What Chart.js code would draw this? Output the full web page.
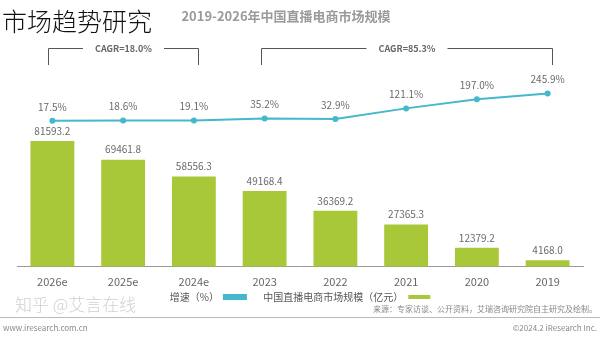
<!DOCTYPE html>
<html>
<head>
<meta charset="utf-8">
<script src="https://cdn.jsdelivr.net/npm/chart.js@4/dist/chart.umd.min.js"></script>
<style>
  html, body { margin: 0; padding: 0; background: #fff; }
  #wrap { position: relative; width: 600px; height: 338px; }
  #overlay {
    position: absolute; left: 2px; top: 2px;
    font-family: "Noto Sans CJK SC", sans-serif; font-size: 25px; font-weight: 300;
    color: #111;
  }
</style>
</head>
<body>
<div id="wrap">
  <canvas id="marketChart" width="600" height="338"></canvas>
  <div id="overlay">市场趋势研究</div>
</div>
<script>
// Data (order as shown in the picture)
const years = ['2026e', '2025e', '2024e', '2023', '2022', '2021', '2020', '2019'];
const marketSize = [81593.2, 69461.8, 58556.3, 49168.4, 36369.2, 27365.3, 12379.2, 4168.0];
const growthRate = [17.5, 18.6, 19.1, 35.2, 32.9, 121.1, 197.0, 245.9];
const cagrLabels = ['CAGR=18.0%', 'CAGR=85.3%'];

const FONT = '"Noto Sans CJK SC", "Noto Sans", sans-serif';
const BAR_COLOR = '#A8C83A';
const LINE_COLOR = '#45B8CB';

/**
 * Value labels above bars and points
 */
const valueLabels = {
    id: 'valueLabels',
    afterDatasetsDraw(chart) {
        const ctx = chart.ctx;
        ctx.save();
        ctx.textAlign = 'center';
        ctx.textBaseline = 'bottom';
        ctx.fillStyle = '#6a6a6a';
        ctx.font = '10px ' + FONT;

        chart.getDatasetMeta(0).data.forEach((bar, i) => {
            ctx.fillText(marketSize[i].toFixed(1), bar.x, bar.y - 5);
        });
        chart.getDatasetMeta(1).data.forEach((pt, i) => {
            ctx.fillText(growthRate[i].toFixed(1) + '%', pt.x, pt.y - 9);
        });
        ctx.restore();
    }
};

/**
 * Title, CAGR brackets and footer
 */
const decorations = {
    id: 'decorations',
    afterDraw(chart) {
        const ctx = chart.ctx;
        const xs = chart.getDatasetMeta(0).data.map(b => b.x);
        ctx.save();

        // title
        ctx.fillStyle = '#9a9a9a';
        ctx.font = 'bold 13px ' + FONT;
        ctx.textAlign = 'center';
        ctx.textBaseline = 'middle';
        ctx.fillText('2019-2026年中国直播电商市场规模', 286, 16);

        // CAGR brackets
        const groups = [[0, 2], [3, 7]];
        ctx.strokeStyle = '#555';
        ctx.lineWidth = 1;
        ctx.font = 'bold 9px ' + FONT;
        ctx.fillStyle = '#666';
        groups.forEach((g, k) => {
            const x0 = Math.round(xs[g[0]] - 4) + 0.5;
            const x1 = Math.round(xs[g[1]] + 4) + 0.5;
            const y = 48.5;
            const mid = (x0 + x1) / 2;
            const half = ctx.measureText(cagrLabels[k]).width / 2 + 12;
            ctx.beginPath();
            ctx.moveTo(x0, 65); ctx.lineTo(x0, y); ctx.lineTo(mid - half, y);
            ctx.moveTo(mid + half, y); ctx.lineTo(x1, y); ctx.lineTo(x1, 65);
            ctx.stroke();
            ctx.fillText(cagrLabels[k], mid, y);
        });

        // footer
        ctx.fillStyle = '#d0d0d0';
        ctx.font = '300 17px ' + FONT;
        ctx.textAlign = 'left';
        ctx.fillText('知乎 @艾言在线', 15, 305);

        ctx.strokeStyle = '#bbb';
        ctx.beginPath();
        ctx.moveTo(0, 317.5); ctx.lineTo(600, 317.5);
        ctx.stroke();

        ctx.fillStyle = '#888';
        ctx.font = '8px ' + FONT;
        ctx.fillText('www.iresearch.com.cn', 3, 328);
        ctx.textAlign = 'right';
        ctx.fillText('来源：专家访谈、公开资料，艾瑞咨询研究院自主研究及绘制。', 597, 309);
        ctx.fillText('©2024.2 iResearch Inc.', 597, 328);
        ctx.restore();
    }
};

new Chart(document.getElementById('marketChart'), {
    data: {
        labels: years,
        datasets: [{
            type: 'bar',
            label: '中国直播电商市场规模（亿元）',
            data: marketSize,
            backgroundColor: BAR_COLOR,
            categoryPercentage: 1,
            barPercentage: 0.62,
            yAxisID: 'y',
            order: 2
        }, {
            type: 'line',
            label: '增速（%）',
            data: growthRate,
            borderColor: LINE_COLOR,
            backgroundColor: LINE_COLOR,
            borderWidth: 2,
            pointRadius: 3,
            pointBackgroundColor: LINE_COLOR,
            pointBorderWidth: 0,
            tension: 0,
            yAxisID: 'y1',
            order: 1
        }]
    },
    options: {
        responsive: false,
        animation: false,
        layout: {
            padding: { left: 17, right: 17, top: 74, bottom: 26 }
        },
        plugins: {
            legend: {
                position: 'bottom',
                rtl: true,
                reverse: true,
                labels: {
                    color: '#555',
                    boxWidth: 22,
                    boxHeight: 4,
                    padding: 4,
                    font: { size: 10, family: FONT },
                    generateLabels(chart) {
                        const items = Chart.defaults.plugins.legend.labels.generateLabels(chart);
                        items.forEach(it => { if (it.datasetIndex === 0) it.text = '      ' + it.text; });
                        return items;
                    }
                }
            },
            tooltip: { enabled: false }
        },
        scales: {
            x: {
                grid: { display: false },
                border: { display: true, color: '#999' },
                ticks: {
                    color: '#666',
                    font: { size: 11, family: FONT },
                    padding: 0
                }
            },
            y: {
                display: false,
                min: 0,
                max: 125000
            },
            y1: {
                display: false,
                min: -1210,
                max: 410
            }
        }
    },
    plugins: [valueLabels, decorations]
});
</script>
</body>
</html>
